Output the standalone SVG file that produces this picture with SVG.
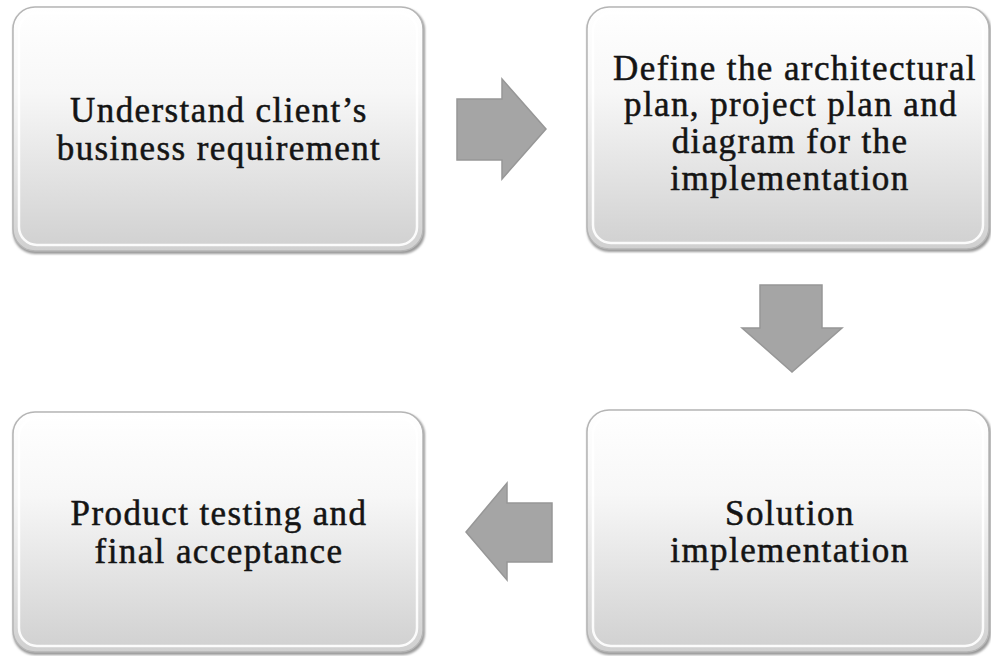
<svg xmlns="http://www.w3.org/2000/svg" width="991" height="656" viewBox="0 0 991 656">
<defs>
<linearGradient id="boxg" x1="0" y1="0" x2="0" y2="1">
<stop offset="0" stop-color="#ffffff"/>
<stop offset="0.35" stop-color="#f7f7f7"/>
<stop offset="1" stop-color="#d0d0d0"/>
</linearGradient>
<filter id="sh" x="-10%" y="-10%" width="120%" height="120%">
<feGaussianBlur stdDeviation="1.2"/>
</filter>
</defs>
<style>
.outer{fill:#9a9a9a;filter:url(#sh)}
.box{fill:url(#boxg);stroke:#b5b5b5;stroke-width:1.5}
.hl{fill:none;stroke:#ffffff;stroke-width:2.5;opacity:0.9}
.t{font-family:"Liberation Serif","Times New Roman",serif;font-size:35px;letter-spacing:1.4px;fill:#141414;text-anchor:middle;stroke:#141414;stroke-width:0.5}
.arr{fill:#a5a5a5;stroke:#979797;stroke-width:1.5;stroke-linejoin:miter}
</style>
<rect width="991" height="656" fill="#ffffff"/>
<g id="node1">
<rect class="outer" x="13" y="8" width="412" height="246" rx="22"/>
<rect class="box" x="13" y="7" width="410" height="244" rx="22"/>
<rect class="hl" x="19" y="13" width="398" height="232" rx="18"/>
<text class="t" x="219" y="122">Understand client’s</text>
<text class="t" x="219" y="160">business requirement</text>
</g>
<g id="node2">
<rect class="outer" x="587" y="8" width="404" height="244" rx="22"/>
<rect class="box" x="587" y="7" width="402" height="242" rx="22"/>
<rect class="hl" x="593" y="13" width="390" height="230" rx="18"/>
<text class="t" x="795" y="80">Define the architectural</text>
<text class="t" x="791" y="116">plan, project plan and</text>
<text class="t" x="790" y="153">diagram for the</text>
<text class="t" x="790" y="190">implementation</text>
</g>
<g id="node3">
<rect class="outer" x="587" y="411" width="404" height="244" rx="22"/>
<rect class="box" x="587" y="410" width="402" height="242" rx="22"/>
<rect class="hl" x="593" y="416" width="390" height="230" rx="18"/>
<text class="t" x="790" y="525">Solution</text>
<text class="t" x="790" y="562">implementation</text>
</g>
<g id="node4">
<rect class="outer" x="13" y="413" width="412" height="242" rx="22"/>
<rect class="box" x="13" y="412" width="410" height="240" rx="22"/>
<rect class="hl" x="19" y="418" width="398" height="228" rx="18"/>
<text class="t" x="219" y="525">Product testing and</text>
<text class="t" x="219" y="563">final acceptance</text>
</g>
<g id="connectors">
<polygon class="arr" points="457,99 502,99 502,79 546,129 502,179 502,160 457,160"/>
<polygon class="arr" points="760,285 822,285 822,328 842,328 792,372 742,328 760,328"/>
<polygon class="arr" points="552,503 507,503 507,483 466,532 507,580 507,562 552,562"/>
</g>
</svg>
